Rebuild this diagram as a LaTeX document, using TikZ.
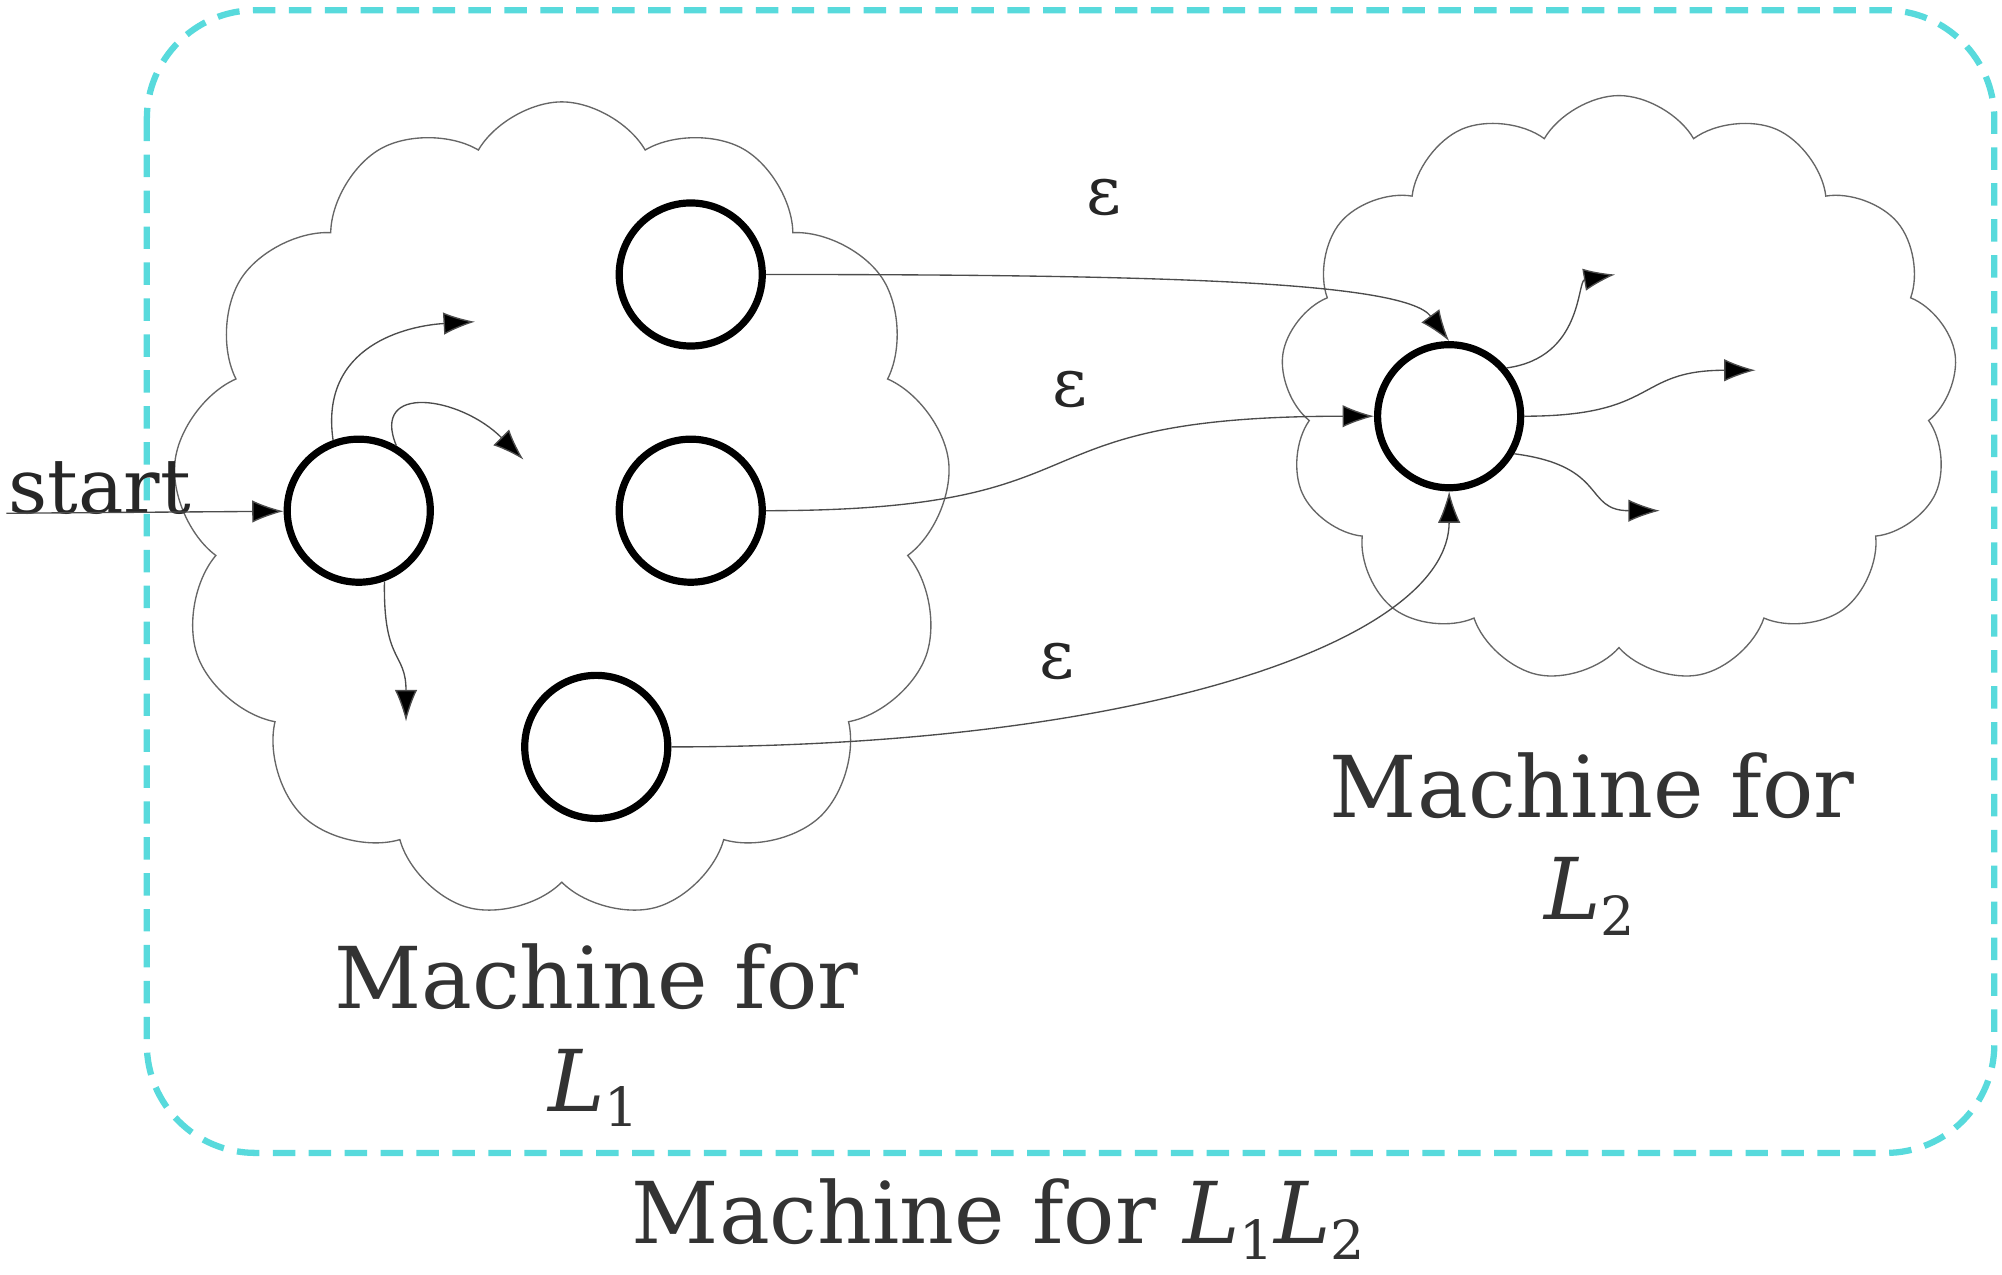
\documentclass[tikz,border=0pt]{standalone}
\usepackage{fontspec}
\setmainfont{DejaVu Serif}
\usetikzlibrary{shapes.symbols,arrows.meta}
\definecolor{turq}{HTML}{58DADC}
\begin{document}
\begin{tikzpicture}[x=0.01cm,y=-0.01cm,
  st/.style={circle,draw=black,line width=1.6pt,minimum size=1.12cm,inner sep=0pt},
  cl/.style={cloud,draw=black!60,line width=0.3pt,cloud puffs=13,cloud puff arc=120},
  ar/.style={-{Latex[length=7pt,width=5pt,fill=black]},line width=0.3pt,draw=black!70},
  lab/.style={font=\fontsize{19}{23}\selectfont,text=black!80,align=center},
  eps/.style={font=\fontsize{15}{18}\selectfont,text=black!85}]
\useasboundingbox (0,0) rectangle (1568,998);
\draw[turq,line width=1.4pt,dash pattern=on 5pt off 3pt,rounded corners=0.85cm] (115,8) rectangle (1562,903);
\node[cl,minimum width=6.1cm,minimum height=6.4cm,aspect=0.95] (c1) at (440,400) {};
\node[cl,minimum width=5.3cm,minimum height=4.6cm,aspect=1.15] (c2) at (1268,305) {};
\node[st] (a) at (541,215) {};
\node[st] (s) at (281,400) {};
\node[st] (b) at (541,400) {};
\node[st] (c) at (467,585) {};
\node[st] (f) at (1135,326) {};
\node[font=\fontsize{17}{20}\selectfont,text=black!85] (start) at (78,382) {start};
\coordinate (s0) at (5,402);
\draw[ar] (s0) -- (s);
\coordinate (o1) at (372,252); \coordinate (o2) at (410,360); \coordinate (o3) at (318,565);
\draw[ar] (s.110) .. controls (250,270) and (320,255) .. (o1);
\draw[ar] (s.60) .. controls (290,300) and (360,310) .. (o2);
\draw[ar] (s.-70) .. controls (300,520) and (318,510) .. (o3);
\draw[ar] (a.east) .. controls (900,215) and (1100,220) .. (f.north);
\node[eps] at (865,155) {ε};
\draw[ar] (b.east) .. controls (880,400) and (780,326) .. (f.west);
\node[eps] at (838,305) {ε};
\draw[ar] (c.east) .. controls (900,585) and (1135,500) .. (f.south);
\node[eps] at (828,518) {ε};
\coordinate (p1) at (1265,215); \coordinate (p2) at (1375,290); \coordinate (p3) at (1300,400);
\draw[ar] (f.40) .. controls (1240,280) and (1235,220) .. (p1);
\draw[ar] (f.east) .. controls (1300,326) and (1280,290) .. (p2);
\draw[ar] (f.-30) .. controls (1260,365) and (1240,400) .. (p3);
\newcommand{\sbx}[1]{\raisebox{-0.35ex}{\fontsize{12}{14}\selectfont #1}}
\node[lab] (l1) at (467,765) {Machine for};
\node[lab] (l1b) at (465,852) {\textit{L}\sbx{1}};
\node[lab] (l2) at (1247,615) {Machine for};
\node[lab] (l2b) at (1245,702) {\textit{L}\sbx{2}};
\node[lab] (l3) at (782,955) {Machine for \textit{L}\sbx{1}\textit{L}\sbx{2}};
\end{tikzpicture}
\end{document}
